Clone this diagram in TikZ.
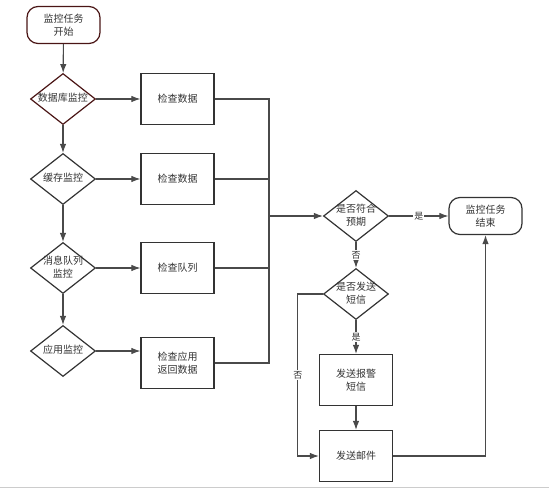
\documentclass[tikz,border=0pt]{standalone}
\usepackage{fontspec}
\setmainfont{Noto Sans CJK SC}
\usetikzlibrary{shapes,arrows,arrows.meta,positioning}
\definecolor{edgegray}{HTML}{4A4A4A}
\definecolor{boxgray}{HTML}{333333}
\definecolor{darkred}{HTML}{4A1515}
\newcommand{\dtxt}[1]{\makebox[0pt]{\begin{tabular}{@{}c@{}}#1\end{tabular}}}
\tikzstyle{terminal} = [draw=boxgray, rectangle, rounded corners=11pt, line width=1.2pt, minimum width=73pt, minimum height=37pt, inner sep=0pt, align=center]
\tikzstyle{decision} = [draw=boxgray, diamond, line width=1.2pt, minimum width=65pt, minimum height=51pt, inner sep=0pt]
\tikzstyle{process} = [draw=boxgray, rectangle, line width=1.2pt, minimum width=73pt, minimum height=51pt, inner sep=0pt, align=center]
\tikzstyle{flow} = [draw=edgegray, line width=1.1pt, -{Latex[length=9pt,width=6.5pt]}]
\tikzstyle{joinline} = [draw=edgegray, line width=1.1pt]
\tikzstyle{answer} = [fill=white, inner sep=1pt, font=\fontsize{9}{10}\selectfont, text=boxgray]

\begin{document}
\begin{tikzpicture}[x=1pt, y=-1pt, font=\fontsize{10}{13}\selectfont, text=boxgray]
	\useasboundingbox (0,0) rectangle (549,489);
	\draw[black!20, line width=1pt] (0,487) -- (549,487);
	% left column
	\node [terminal, draw=darkred] (start) at (63.5,25) {监控任务\\开始};
	\node [decision, draw=darkred] (db) at (63,99) {\dtxt{数据库监控}};
	\node [decision] (cache) at (63,179) {\dtxt{缓存监控}};
	\node [decision] (mq) at (63,268) {\dtxt{消息队列\\监控}};
	\node [decision] (app) at (63,351) {\dtxt{应用监控}};
	% checks
	\node [process] (chkdb) at (177.5,99) {检查数据};
	\node [process] (chkcache) at (177.5,179) {检查数据};
	\node [process] (chkmq) at (177.5,268) {检查队列};
	\node [process] (chkapp) at (177.5,363) {检查应用\\返回数据};
	% right part
	\coordinate (merge) at (269,216);
	\node [decision] (expect) at (356,216) {\dtxt{是否符合\\预期}};
	\node [terminal] (done) at (485.5,216) {监控任务\\结束};
	\node [decision] (sms) at (356,294) {\dtxt{是否发送\\短信}};
	\node [process] (alarm) at (356,380) {发送报警\\短信};
	\node [process] (mail) at (356,456) {发送邮件};

	\draw[flow] (start) -- (db);
	\draw[flow] (db) -- (cache);
	\draw[flow] (cache) -- (mq);
	\draw[flow] (mq) -- (app);
	\draw[flow] (db) -- (chkdb);
	\draw[flow] (cache) -- (chkcache);
	\draw[flow] (mq) -- (chkmq);
	\draw[flow] (app) -- (app -| chkapp.west);
	\draw[joinline] (chkdb.east) -| (merge);
	\draw[joinline] (chkcache.east) -| (merge);
	\draw[joinline] (chkmq.east) -| (merge);
	\draw[joinline] (chkapp.east) -| (merge);
	\draw[flow] (merge) -- (expect);
	\draw[flow] (expect) -- node[answer] {是} (done);
	\draw[flow] (expect) -- node[answer] {否} (sms);
	\draw[flow] (sms) -- node[answer] {是} (alarm);
	\draw[flow] (alarm) -- (mail);
	\draw[flow] (sms.west) -- ++(-25,0) |- node[answer, pos=0.25] {否} (mail.west);
	\draw[flow] (mail.east) -| (done.south);
\end{tikzpicture}
\end{document}
